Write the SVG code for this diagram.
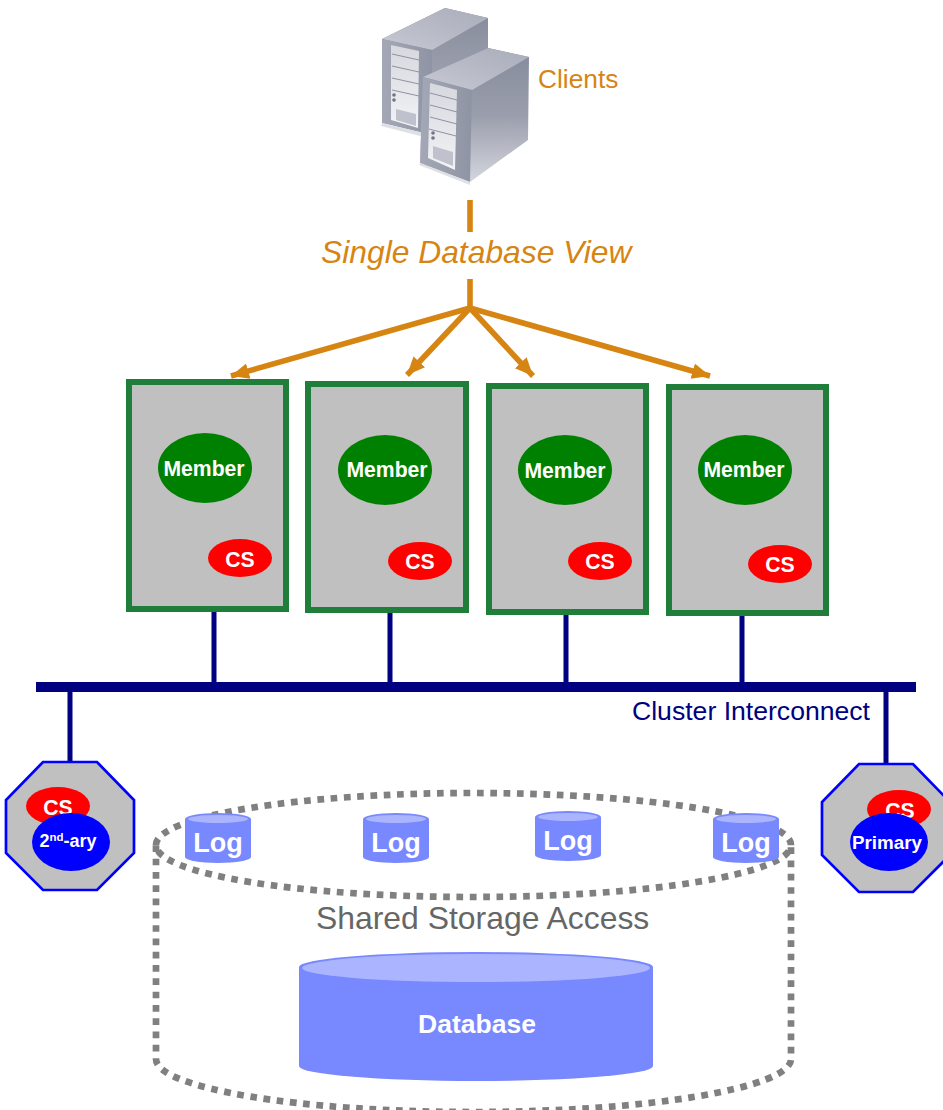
<svg xmlns="http://www.w3.org/2000/svg" width="943" height="1110" viewBox="0 0 943 1110">
<style>
text{font-family:"Liberation Sans",Arial,sans-serif}
.w{fill:#fff;font-weight:700;text-anchor:middle}
.box{fill:#c0c0c0;stroke:#1e7e3a;stroke-width:6}
.mem{fill:#008000}
.red{fill:#f00}
.blue{fill:#00f}
.oct{fill:#c0c0c0;stroke:#00f;stroke-width:2.7}
.nav{stroke:#000080;stroke-width:5;fill:none}
.org{stroke:#d68512;stroke-width:5.6;fill:none}
.dash{fill:none;stroke:#808080;stroke-width:6.7;stroke-dasharray:6.7 6.6}
.cyl{fill:#7888ff}
.cap{fill:#aab4ff}
.m{font-size:21.2px}
.l{font-size:27px}
</style>
<defs>
<marker id="ah" markerUnits="userSpaceOnUse" markerWidth="20" markerHeight="20" refX="18" refY="10" orient="auto"><path d="M0 2L18 10L0 18Z" fill="#d68512"/></marker>
<filter id="soft" x="-5%" y="-5%" width="110%" height="110%"><feGaussianBlur stdDeviation="0.7"/></filter>
<linearGradient id="sf" x1="0" y1="0" x2="1" y2="0"><stop offset="0" stop-color="#a4a8b6"/><stop offset="1" stop-color="#8f94a4"/></linearGradient>
<linearGradient id="ss" x1="0" y1="0" x2="0" y2="1"><stop offset="0" stop-color="#858a9b"/><stop offset=".5" stop-color="#9a9eac"/><stop offset="1" stop-color="#d4d6dd"/></linearGradient>
<linearGradient id="st" x1="0" y1="1" x2="1" y2="0"><stop offset="0" stop-color="#c6c8d2"/><stop offset="1" stop-color="#a9acba"/></linearGradient>
<linearGradient id="sp" x1="0" y1="0" x2="0" y2="1"><stop offset="0" stop-color="#d6d8de"/><stop offset="1" stop-color="#f2f3f5"/></linearGradient>
</defs>

<g id="clients">
<g id="server-back" filter="url(#soft)">
<path d="M382 39L445 8L488 18L488 100L432 132L382 123Z" fill="url(#ss)"/>
<path d="M382 39L445 8L488 18L432 50Z" fill="url(#st)"/>
<path d="M382 39L432 50V135L382 123Z" fill="url(#sf)"/>
<path d="M391 45L419 51L418 128L391 120Z" fill="url(#sp)"/>
<path d="M392 54L419 60M392 66L419 72M392 78L419 84M392 90L419 96" stroke="#8d93a3" stroke-width="1"/>
<circle cx="394" cy="95" r="1.8" fill="#6f7484"/><circle cx="394" cy="100" r="1.8" fill="#6f7484"/>
<path d="M396 109L416 114V126L396 120Z" fill="#bfc2cc"/>
<path d="M382 123L432 135L432 139L381 126Z" fill="#dfe0e6"/>
</g>
<g id="server-front" filter="url(#soft)">
<path d="M423 77L488 48L529 57L528 140L470 182L420 163Z" fill="url(#ss)"/>
<path d="M423 77L488 48L529 57L472 90Z" fill="url(#st)"/>
<path d="M423 77L472 90L470 182L420 163Z" fill="url(#sf)"/>
<path d="M430 83L457 90L455 170L428 158Z" fill="url(#sp)"/>
<path d="M430 93L457 100M430 105L457 112M430 117L457 124M429 129L456 136" stroke="#8d93a3" stroke-width="1"/>
<circle cx="433" cy="133" r="1.8" fill="#6f7484"/><circle cx="433" cy="138" r="1.8" fill="#6f7484"/>
<path d="M433 146L453 152V166L433 158Z" fill="#bfc2cc"/>
<path d="M420 163L470 182L470 185L419 165Z" fill="#dfe0e6"/>
</g>
<text x="538" y="88" font-size="26.3" fill="#d68512">Clients</text>
</g>

<text id="view-label" x="321" y="263" font-size="31.8" font-style="italic" fill="#d68512">Single Database View</text>

<g id="connectors">
<path class="org" d="M470 200V232M470 279V308"/>
<path class="org" d="M470 308L231 376" marker-end="url(#ah)"/>
<path class="org" d="M470 308L407 375" marker-end="url(#ah)"/>
<path class="org" d="M470 308L533 376" marker-end="url(#ah)"/>
<path class="org" d="M470 308L710 376" marker-end="url(#ah)"/>
<path class="nav" d="M214 612V684M390 613V684M566 614V684M742 616V684M70 690V762M886 690V764"/>
<rect x="36" y="682" width="880" height="10" fill="#000080"/>
</g>

<g id="member-1"><rect class="box" x="129" y="382" width="157" height="227"/><ellipse class="mem" cx="205" cy="468" rx="47" ry="35"/><text class="w m" x="204" y="476">Member</text><ellipse class="red" cx="240" cy="558" rx="32" ry="19"/><text class="w m" x="240" y="567">CS</text></g>
<g id="member-2"><rect class="box" x="308" y="384" width="158" height="226"/><ellipse class="mem" cx="385" cy="470" rx="47" ry="35"/><text class="w m" x="387" y="477">Member</text><ellipse class="red" cx="420" cy="561" rx="32" ry="19"/><text class="w m" x="420" y="569">CS</text></g>
<g id="member-3"><rect class="box" x="489" y="386" width="157" height="226"/><ellipse class="mem" cx="565" cy="470" rx="47" ry="35"/><text class="w m" x="565" y="478">Member</text><ellipse class="red" cx="600" cy="561" rx="32" ry="19"/><text class="w m" x="600" y="569">CS</text></g>
<g id="member-4"><rect class="box" x="669" y="387" width="157" height="226"/><ellipse class="mem" cx="745" cy="470" rx="47" ry="35"/><text class="w m" x="744" y="477">Member</text><ellipse class="red" cx="780" cy="564" rx="32" ry="19"/><text class="w m" x="780" y="572">CS</text></g>

<text id="interconnect-label" x="632" y="720" font-size="26.5" fill="#000080" textLength="238" lengthAdjust="spacingAndGlyphs">Cluster Interconnect</text>

<g id="cs-secondary">
<path class="oct" d="M43 762H97L134 800V853L97 890H43L6 853V800Z"/>
<ellipse class="red" cx="58" cy="806" rx="32" ry="19"/><text class="w m" x="58" y="815">CS</text>
<ellipse class="blue" cx="71" cy="842" rx="39" ry="29"/><text class="w" font-size="18" x="68" y="847">2<tspan font-size="11.5" dy="-6">nd</tspan><tspan dy="6">-ary</tspan></text>
</g>
<g id="cs-primary">
<path class="oct" d="M859 764H913L950 802V855L913 892H859L822 855V802Z"/>
<ellipse class="red" cx="899" cy="809" rx="32" ry="19"/><text class="w m" x="900" y="818">CS</text>
<ellipse class="blue" cx="889" cy="842" rx="39" ry="29"/><text class="w" font-size="18.8" x="887" y="849">Primary</text>
</g>

<g id="shared-storage">
<path class="dash" d="M156 845C156 816 299 793 473 793S791 816 791 845C791 874 648 897 473 897S156 874 156 845V1059C156 1088 299 1112 473 1112S791 1088 791 1059V845"/>
<text x="316" y="929" font-size="31.9" fill="#666">Shared Storage Access</text>
</g>

<g id="log-1"><path class="cyl" d="M185 819A33 6 0 0 1 251 819V857A33 6 0 0 1 185 857Z"/><ellipse class="cap" cx="218" cy="819" rx="30" ry="4"/><text class="w l" x="218" y="852">Log</text></g>
<g id="log-2"><path class="cyl" d="M363 819A33 6 0 0 1 429 819V857A33 6 0 0 1 363 857Z"/><ellipse class="cap" cx="396" cy="819" rx="30" ry="4"/><text class="w l" x="396" y="852">Log</text></g>
<g id="log-3"><path class="cyl" d="M535 817A33 6 0 0 1 601 817V855A33 6 0 0 1 535 855Z"/><ellipse class="cap" cx="568" cy="817" rx="30" ry="4"/><text class="w l" x="568" y="850">Log</text></g>
<g id="log-4"><path class="cyl" d="M713 819A33 6 0 0 1 779 819V857A33 6 0 0 1 713 857Z"/><ellipse class="cap" cx="746" cy="819" rx="30" ry="4"/><text class="w l" x="746" y="852">Log</text></g>

<g id="database">
<path class="cyl" d="M299 967A177 15 0 0 1 653 967V1066A177 15 0 0 1 299 1066Z"/>
<ellipse class="cap" cx="476" cy="968" rx="174" ry="14"/>
<text class="w" font-size="26.5" x="477" y="1033">Database</text>
</g>
</svg>
